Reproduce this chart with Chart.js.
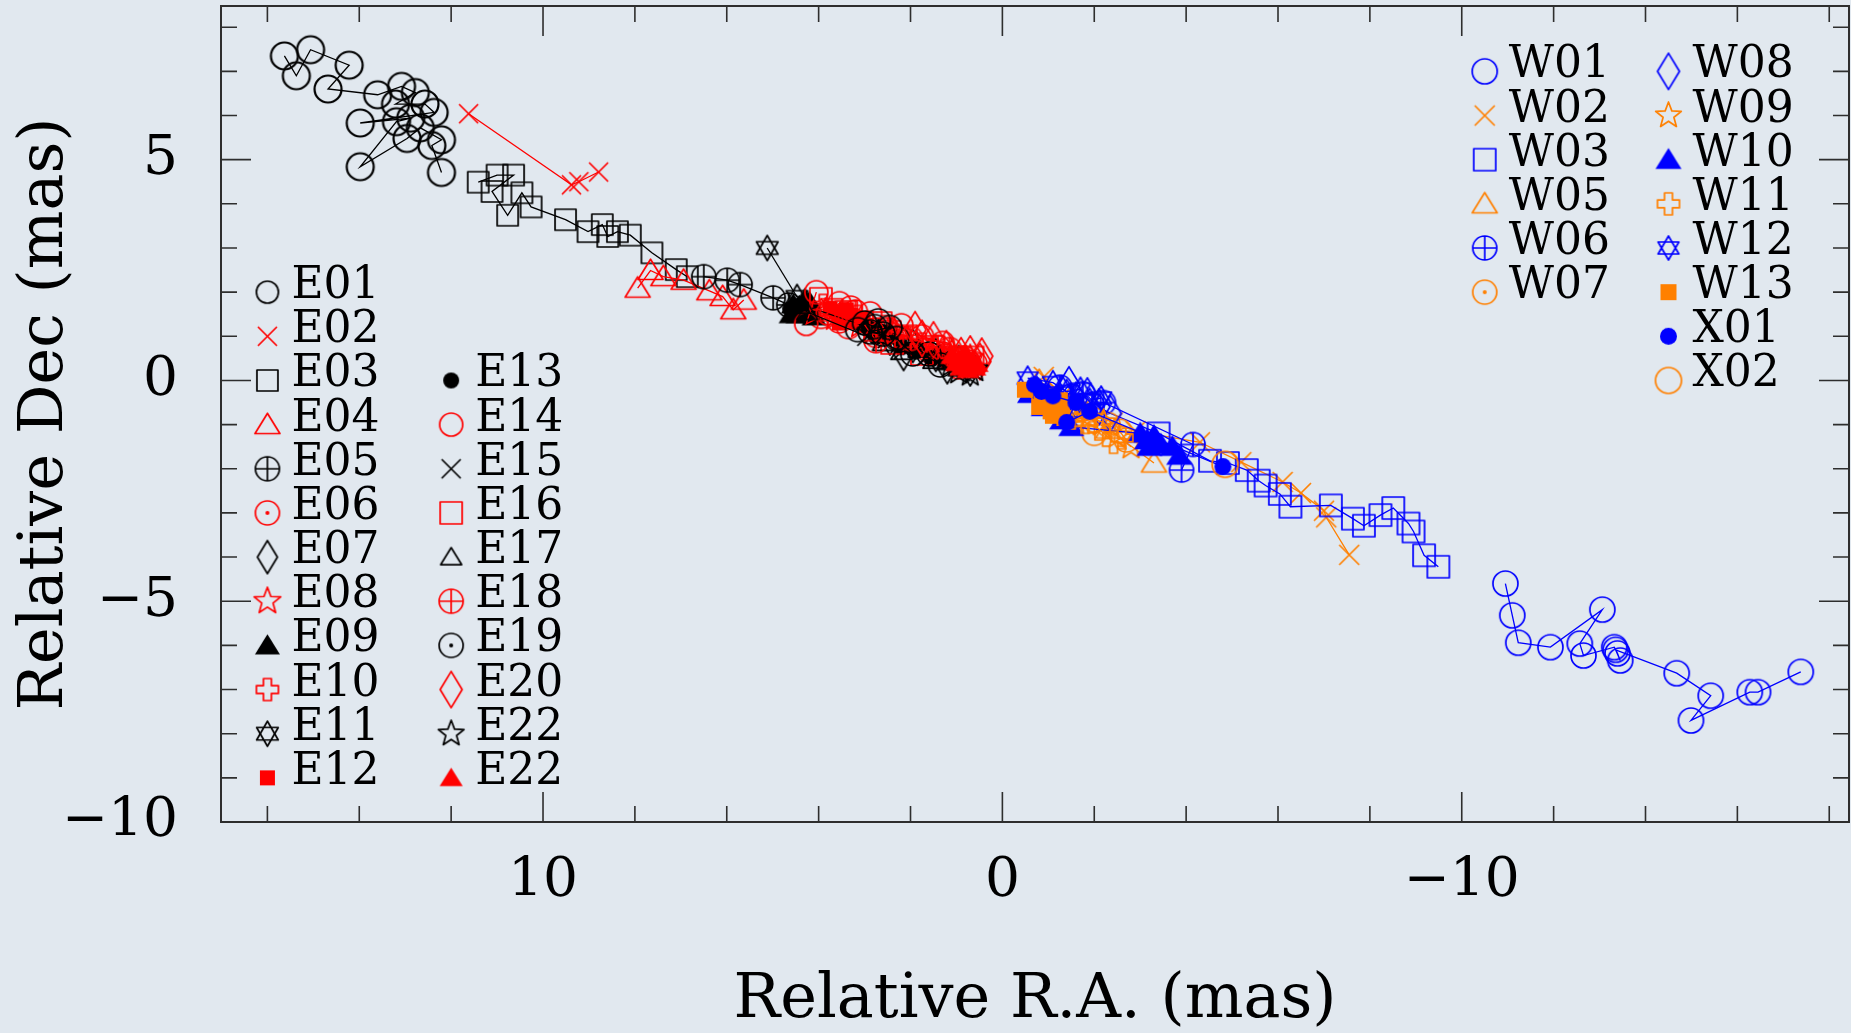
<!DOCTYPE html>
<html>
<head>
<meta charset="utf-8">
<script src="https://cdn.jsdelivr.net/npm/chart.js@4.4.1/dist/chart.umd.min.js"></script>
<style>
  html, body { margin: 0; padding: 0; background: #e1e8ef; }
  #wrap { width: 1851px; height: 1033px; }
</style>
</head>
<body>
<div id="wrap"><canvas id="pm" width="1851" height="1033"></canvas></div>
<script>
// Relative positions [R.A., Dec] in mas, one array per feature, in epoch order
const E01 = [[15.63,7.35],[15.37,6.90],[15.06,7.49],[14.22,7.14],[14.68,6.60],[13.60,6.47],[13.08,6.66],[12.78,6.52],[13.21,6.26],[12.57,6.26],[12.37,6.07],[13.98,5.83],[12.88,5.94],[13.19,5.86],[13.98,4.84],[12.96,5.48],[12.67,5.72],[12.21,5.45],[12.42,5.32],[12.21,4.71]];
const E02 = [[11.62,6.04],[9.38,4.43],[9.22,4.50],[8.79,4.72]];
const E03 = [[11.41,4.49],[11.00,4.65],[10.64,4.65],[11.11,4.28],[10.77,3.74],[10.46,4.25],[10.26,3.93],[9.51,3.64],[9.02,3.37],[8.71,3.53],[8.59,3.26],[8.38,3.37],[8.10,3.29],[7.63,2.89],[7.10,2.51],[6.86,2.35]];
const E04 = [[7.94,2.09],[7.66,2.49],[7.38,2.35],[6.94,2.27],[6.38,2.03],[6.09,1.90],[5.86,1.60],[5.63,1.82]];
const E05 = [[6.50,2.35],[5.99,2.27],[5.71,2.17],[4.99,1.87],[4.65,1.71],[4.22,1.55]];
const E06 = [[3.95,1.45],[3.55,1.35],[3.35,1.22],[2.75,1.02],[2.20,0.88],[1.60,0.68],[1.30,0.60],[1.05,0.50],[0.75,0.42]];
const E07 = [[2.45,0.95],[2.15,0.60],[1.95,0.78],[1.45,0.58],[1.20,0.30],[0.95,0.42],[0.70,0.25]];
const E08 = [[3.85,1.55],[3.65,1.42],[3.10,1.25],[2.60,1.05],[2.35,1.12],[2.05,0.92],[1.45,0.72],[1.10,0.62],[0.70,0.50]];
const E09 = [[4.55,1.72],[4.35,1.58],[4.30,1.85],[4.20,1.78],[4.60,1.50],[4.45,1.50],[4.10,1.45]];
const E10 = [[3.90,1.70],[3.45,1.52],[3.15,1.45],[2.90,1.32],[2.55,1.22],[2.30,1.10],[1.75,0.82],[1.20,0.58],[0.95,0.52]];
const E11 = [[5.12,3.00],[4.47,1.89]];
const E12 = [[3.75,1.62],[3.62,1.55],[3.40,1.60],[3.48,1.42],[3.55,1.30],[3.30,1.47],[3.18,1.32],[3.05,1.38],[2.95,1.25]];
const E13 = [[4.62,1.62],[4.38,1.72],[2.92,1.20],[2.75,0.98],[2.62,1.10],[2.45,1.05],[2.20,0.75],[1.90,0.65],[1.55,0.50],[1.25,0.45],[1.02,0.40],[0.72,0.33]];
const E14 = [[4.05,2.00],[4.27,1.28],[3.80,1.52],[3.55,1.75],[3.30,1.65],[2.88,1.52],[2.52,1.10],[2.20,1.25],[1.75,1.00],[1.30,0.85],[0.95,0.30]];
const E15 = [[2.95,1.00],[2.80,1.05],[2.50,0.95],[2.15,0.70],[1.65,0.55],[1.30,0.52],[0.88,0.36]];
const E16 = [[3.95,1.85],[3.72,1.60],[3.40,1.55],[2.65,1.30],[2.40,0.85],[2.10,1.00],[1.75,0.60],[1.50,0.76],[1.08,0.52],[0.65,0.52]];
const E17 = [[4.42,1.70],[4.25,1.55],[2.60,0.85],[2.20,0.65],[1.82,0.70],[1.50,0.45],[1.18,0.42],[0.95,0.28]];
const E18 = [[3.20,1.55],[2.75,0.90],[2.50,1.15],[2.00,0.95],[1.40,0.75],[1.15,0.70],[0.82,0.50],[0.60,0.38]];
const E19 = [[3.15,1.15],[3.00,1.30],[2.78,1.22],[2.70,1.35],[2.60,1.05],[2.45,1.20],[2.88,1.10],[2.30,0.95],[1.95,0.60],[1.60,0.60],[1.35,0.35]];
const E20 = [[1.90,1.15],[1.75,0.95],[1.50,0.92],[1.22,0.72],[0.90,0.56],[0.70,0.60],[0.49,0.43],[0.45,0.55]];
const E22a = [[1.12,0.36],[0.95,0.20],[0.80,0.30],[0.70,0.15],[0.60,0.25]];
const E22b = [[1.10,0.56],[1.00,0.40],[0.95,0.50],[0.90,0.30],[0.85,0.40],[0.80,0.60],[0.70,0.36],[0.65,0.45],[0.60,0.30],[0.55,0.38],[0.75,0.24]];

const W01 = [[-10.95,-4.60],[-11.10,-5.32],[-11.23,-5.94],[-11.93,-6.04],[-13.06,-5.19],[-12.57,-5.96],[-12.65,-6.23],[-13.32,-6.04],[-13.39,-6.18],[-13.45,-6.34],[-13.35,-6.10],[-14.68,-6.63],[-15.42,-7.14],[-14.99,-7.70],[-16.27,-7.06],[-16.45,-7.06],[-17.38,-6.60]];
const W02 = [[-0.90,0.08],[-1.30,-0.35],[-1.70,-0.65],[-2.40,-0.95],[-2.90,-1.15],[-4.30,-1.40],[-5.20,-1.85],[-6.10,-2.30],[-6.50,-2.55],[-7.00,-2.95],[-7.05,-3.10],[-7.55,-3.95]];
const W03 = [[-1.90,-0.55],[-3.40,-1.20],[-4.52,-1.82],[-4.91,-1.87],[-5.32,-2.03],[-5.58,-2.27],[-5.73,-2.38],[-6.04,-2.57],[-6.27,-2.86],[-7.15,-2.83],[-7.63,-3.13],[-7.87,-3.29],[-8.23,-3.05],[-8.51,-2.89],[-8.84,-3.24],[-8.95,-3.42],[-9.18,-3.96],[-9.49,-4.22]];
const W05 = [[-0.80,0.00],[-1.60,-0.70],[-2.30,-1.10],[-3.30,-1.87]];
const W06 = [[-1.25,-0.15],[-1.50,-0.35],[-1.75,-0.30],[-1.95,-0.55],[-2.20,-0.50],[-4.15,-1.45],[-3.90,-2.03]];
const W07 = [[-1.45,-0.60],[-1.70,-0.75],[-2.00,-0.90],[-2.00,-1.20],[-2.30,-1.00],[-2.55,-1.15],[-2.70,-1.35]];
const W08 = [[-1.30,-0.30],[-1.45,-0.10],[-1.60,-0.45],[-1.85,-0.35],[-2.10,-0.60],[-2.35,-0.75]];
const W09 = [[-1.60,-0.95],[-1.90,-0.85],[-2.20,-0.95],[-2.50,-1.25],[-2.80,-1.50]];
const W10 = [[-0.60,-0.30],[-0.75,-0.15],[-1.00,-0.30],[-0.90,-0.60],[-1.20,-0.35],[-1.30,-0.90],[-1.50,-1.05],[-3.00,-1.20],[-3.15,-1.35],[-3.30,-1.25],[-3.20,-1.50],[-3.45,-1.45],[-3.70,-1.50],[-3.85,-1.70]];
const W11 = [[-1.50,-0.85],[-1.80,-0.95],[-2.10,-1.10],[-2.42,-1.40],[-2.60,-1.30]];
const W12 = [[-0.55,0.05],[-1.10,-0.05],[-1.40,-0.25],[-1.70,-0.20],[-1.90,-0.45],[-2.15,-0.40]];
const W13 = [[-0.49,-0.21],[-0.80,-0.60],[-0.85,-0.45],[-0.95,-0.35],[-1.00,-0.55],[-1.15,-0.50],[-1.25,-0.45],[-1.20,-0.75],[-1.05,-0.70],[-1.10,-0.80],[-1.30,-0.65],[-1.35,-0.85]];
const X01 = [[-0.70,-0.10],[-0.85,-0.25],[-1.10,-0.35],[-1.60,-0.50],[-1.40,-0.95],[-1.90,-0.70],[-4.80,-1.95]];
const X02 = [[-4.85,-1.90]];

// axis ticks and labels
const xTicks = [-18, -16, -14, -12, -10, -8, -6, -4, -2, 0, 2, 4, 6, 8, 10, 12, 14, 16];
const xMajor = [10, 0, -10];
const xMajorText = ['10', '0', '\u221210'];
const yTicks = [-10, -9, -8, -7, -6, -5, -4, -3, -2, -1, 0, 1, 2, 3, 4, 5, 6, 7, 8];
const yMajor = [5, 0, -5, -10];
const yMajorText = ['5', '0', '\u22125', '\u221210'];

const X_MIN = -18.43, X_MAX = 17.01;
const Y_MIN = -10, Y_MAX = 8.48;

const BLACK = '#000000', RED = '#ff0000', BLUE = '#0000ff', ORANGE = '#ff8000';
const SERIF = "'DejaVu Serif', serif";

const series = [
  { id: 'E01', pts: E01, kind: 'circle', color: BLACK, s: 13.5, key: 11, lw: 2.2 },
  { id: 'E02', pts: E02, kind: 'x', color: RED, s: 9.5 },
  { id: 'E03', pts: E03, kind: 'square', color: BLACK, s: 10.5 },
  { id: 'E04', pts: E04, kind: 'triangle', color: RED, s: 12.5 },
  { id: 'E05', pts: E05, kind: 'circlePlus', color: BLACK, s: 12 },
  { id: 'E06', pts: E06, kind: 'circleDot', color: RED, s: 12 },
  { id: 'E07', pts: E07, kind: 'diamond', color: BLACK, s: 10 },
  { id: 'E08', pts: E08, kind: 'star5', color: RED, s: 14 },
  { id: 'E09', pts: E09, kind: 'triangleFill', color: BLACK, s: 12.5 },
  { id: 'E10', pts: E10, kind: 'plus', color: RED, s: 11 },
  { id: 'E11', pts: E11, kind: 'star6', color: BLACK, s: 12.5 },
  { id: 'E12', pts: E12, kind: 'squareFill', color: RED, s: 7.5 },
  { id: 'E13', pts: E13, kind: 'dot', color: BLACK, s: 8 },
  { id: 'E14', pts: E14, kind: 'circle', color: RED, s: 11.5 },
  { id: 'E15', pts: E15, kind: 'x', color: BLACK, s: 9.5 },
  { id: 'E16', pts: E16, kind: 'square', color: RED, s: 11 },
  { id: 'E17', pts: E17, kind: 'triangle', color: BLACK, s: 10.5 },
  { id: 'E18', pts: E18, kind: 'circlePlus', color: RED, s: 12 },
  { id: 'E19', pts: E19, kind: 'circleDot', color: BLACK, s: 12 },
  { id: 'E20', pts: E20, kind: 'diamond', color: RED, s: 11 },
  { id: 'E22a', label: 'E22', pts: E22a, kind: 'star5', color: BLACK, s: 13.5 },
  { id: 'E22b', label: 'E22', pts: E22b, kind: 'triangleFill', color: RED, s: 11.5 },
  { id: 'W01', pts: W01, kind: 'circle', color: BLUE, s: 12.5 },
  { id: 'W02', pts: W02, kind: 'x', color: ORANGE, s: 10 },
  { id: 'W03', pts: W03, kind: 'square', color: BLUE, s: 11 },
  { id: 'W05', pts: W05, kind: 'triangle', color: ORANGE, s: 12.5 },
  { id: 'W06', pts: W06, kind: 'circlePlus', color: BLUE, s: 12 },
  { id: 'W07', pts: W07, kind: 'circleDot', color: ORANGE, s: 12 },
  { id: 'W08', pts: W08, kind: 'diamond', color: BLUE, s: 11 },
  { id: 'W09', pts: W09, kind: 'star5', color: ORANGE, s: 13.5 },
  { id: 'W10', pts: W10, kind: 'triangleFill', color: BLUE, s: 13 },
  { id: 'W11', pts: W11, kind: 'plus', color: ORANGE, s: 11 },
  { id: 'W12', pts: W12, kind: 'star6', color: BLUE, s: 12 },
  { id: 'W13', pts: W13, kind: 'squareFill', color: ORANGE, s: 8 },
  { id: 'X01', pts: X01, kind: 'dot', color: BLUE, s: 8.5 },
  { id: 'X02', pts: X02, kind: 'circle', color: ORANGE, s: 13 },
];

// key columns, placed in data coordinates (x = R.A., first row Dec, one row per mas)
const keyColumns = [
  { x: 16, top: 2, ids: ['E01','E02','E03','E04','E05','E06','E07','E08','E09','E10','E11','E12'] },
  { x: 12, top: 0, ids: ['E13','E14','E15','E16','E17','E18','E19','E20','E22a','E22b'] },
  { x: -10.5, top: 7, ids: ['W01','W02','W03','W05','W06','W07'] },
  { x: -14.5, top: 7, ids: ['W08','W09','W10','W11','W12','W13','X01','X02'] },
];

function makeSymbol(kind, color, s, lw) {
  const h = kind === 'diamond' ? s * 1.65 : s;
  const pad = lw + 2;
  const c = document.createElement('canvas');
  c.width = Math.ceil(2 * (s + pad));
  c.height = Math.ceil(2 * (h + pad));
  const g = c.getContext('2d');
  g.translate(c.width / 2, c.height / 2);
  g.strokeStyle = color;
  g.fillStyle = color;
  g.lineWidth = lw;
  g.lineJoin = 'round';
  const poly = (pts) => {
    g.beginPath();
    pts.forEach(([px, py], i) => (i ? g.lineTo(px, py) : g.moveTo(px, py)));
    g.closePath();
  };
  switch (kind) {
    case 'circle':
      g.beginPath(); g.arc(0, 0, s, 0, Math.PI * 2); g.stroke();
      break;
    case 'circlePlus':
      g.beginPath(); g.arc(0, 0, s, 0, Math.PI * 2);
      g.moveTo(-s, 0); g.lineTo(s, 0); g.moveTo(0, -s); g.lineTo(0, s);
      g.stroke();
      break;
    case 'circleDot':
      g.beginPath(); g.arc(0, 0, s, 0, Math.PI * 2); g.stroke();
      g.beginPath(); g.arc(0, 0, 2, 0, Math.PI * 2); g.fill();
      break;
    case 'dot':
      g.beginPath(); g.arc(0, 0, s, 0, Math.PI * 2); g.fill();
      break;
    case 'x':
      g.beginPath();
      g.moveTo(-s, -s); g.lineTo(s, s); g.moveTo(s, -s); g.lineTo(-s, s);
      g.stroke();
      break;
    case 'square':
      g.strokeRect(-s, -s, 2 * s, 2 * s);
      break;
    case 'squareFill':
      g.fillRect(-s, -s, 2 * s, 2 * s);
      break;
    case 'triangle':
      poly([[0, -0.9 * s], [s, 0.72 * s], [-s, 0.72 * s]]); g.stroke();
      break;
    case 'triangleFill':
      poly([[0, -0.9 * s], [s, 0.72 * s], [-s, 0.72 * s]]); g.fill();
      break;
    case 'diamond':
      poly([[0, -h], [s, 0], [0, h], [-s, 0]]); g.stroke();
      break;
    case 'star5': {
      const p = [];
      for (let i = 0; i < 10; i++) {
        const r = i % 2 ? s * 0.42 : s;
        const a = -Math.PI / 2 + i * Math.PI / 5;
        p.push([r * Math.cos(a), r * Math.sin(a)]);
      }
      poly(p); g.stroke();
      break;
    }
    case 'star6':
      for (const off of [-Math.PI / 2, Math.PI / 2]) {
        poly([0, 1, 2].map(i => [s * Math.cos(off + i * 2 * Math.PI / 3), s * Math.sin(off + i * 2 * Math.PI / 3)]));
        g.stroke();
      }
      break;
    case 'plus': {
      const a = s * 0.36;
      poly([[-a, -s], [a, -s], [a, -a], [s, -a], [s, a], [a, a], [a, s], [-a, s], [-a, a], [-s, a], [-s, -a], [-a, -a]]);
      g.stroke();
      break;
    }
  }
  return c;
}

series.forEach(sr => {
  const lw = sr.lw || 1.7;
  sr.sym = makeSymbol(sr.kind, sr.color, sr.s, lw);
  sr.keySym = sr.key ? makeSymbol(sr.kind, sr.color, sr.key, 1.7) : sr.sym;
});

const datasets = series.map((sr, i) => ({
  label: sr.label || sr.id,
  data: sr.pts.map(([x, y]) => ({ x, y })),
  showLine: true,
  borderColor: sr.color,
  borderWidth: 1.3,
  pointStyle: sr.sym,
  pointRadius: sr.s,
  pointHoverRadius: sr.s,
  order: series.length - i,
}));

const MAJOR_LEN = 30, MINOR_LEN = 16;

const framePlugin = {
  id: 'frame',
  afterDraw(chart) {
    const { ctx, chartArea: a, scales: { x, y } } = chart;
    ctx.save();
    ctx.strokeStyle = '#2e2e2e';
    ctx.lineWidth = 2;
    ctx.strokeRect(a.left, a.top, a.right - a.left, a.bottom - a.top);
    ctx.lineWidth = 1.6;
    ctx.beginPath();
    x.ticks.forEach(t => {
      const px = x.getPixelForValue(t.value);
      const len = xMajor.includes(t.value) ? MAJOR_LEN : MINOR_LEN;
      ctx.moveTo(px, a.bottom); ctx.lineTo(px, a.bottom - len);
      ctx.moveTo(px, a.top); ctx.lineTo(px, a.top + len);
    });
    y.ticks.forEach(t => {
      const py = y.getPixelForValue(t.value);
      const len = yMajor.includes(t.value) ? MAJOR_LEN : MINOR_LEN;
      ctx.moveTo(a.left, py); ctx.lineTo(a.left + len, py);
      ctx.moveTo(a.right, py); ctx.lineTo(a.right - len, py);
    });
    ctx.stroke();

    // key: symbol at its data position, name to the right
    ctx.fillStyle = '#000';
    ctx.font = '44px ' + SERIF;
    ctx.textBaseline = 'alphabetic';
    ctx.textAlign = 'left';
    keyColumns.forEach(col => {
      col.ids.forEach((id, row) => {
        const sr = series.find(s => s.id === id);
        const px = x.getPixelForValue(col.x);
        const py = y.getPixelForValue(col.top - row);
        const img = sr.keySym;
        ctx.drawImage(img, px - img.width / 2, py - img.height / 2);
        ctx.fillText(sr.label || sr.id, px + 24, py + 6);
      });
    });
    ctx.restore();
  }
};

const tickFont = { family: SERIF, size: 55, lineHeight: 1 };
const titleFont = { family: SERIF, size: 62, lineHeight: 1 };

new Chart(document.getElementById('pm'), {
  type: 'scatter',
  data: { datasets },
  options: {
    responsive: false,
    animation: false,
    devicePixelRatio: 1,
    layout: { autoPadding: false, padding: { left: 0, right: 2, top: 6, bottom: 0 } },
    plugins: { legend: { display: false }, tooltip: { enabled: false } },
    scales: {
      x: {
        type: 'linear',
        reverse: true,
        min: X_MIN,
        max: X_MAX,
        afterBuildTicks: sc => { sc.ticks = xTicks.map(v => ({ value: v })); },
        afterFit: sc => { sc.height = 211; sc.paddingLeft = 0; sc.paddingRight = 0; },
        ticks: {
          autoSkip: false,
          maxRotation: 0,
          padding: 32,
          color: '#000',
          font: tickFont,
          callback: v => { const i = xMajor.indexOf(v); return i >= 0 ? xMajorText[i] : ''; },
        },
        grid: { display: false, drawTicks: false },
        border: { display: false },
        title: { display: true, text: 'Relative R.A. (mas)', color: '#000', font: titleFont, padding: { top: 0, bottom: 1 } },
      },
      y: {
        type: 'linear',
        min: Y_MIN,
        max: Y_MAX,
        afterBuildTicks: sc => { sc.ticks = yTicks.map(v => ({ value: v })); },
        afterFit: sc => { sc.width = 221; sc.paddingTop = 0; sc.paddingBottom = 0; },
        ticks: {
          autoSkip: false,
          padding: 43,
          color: '#000',
          font: tickFont,
          callback: v => { const i = yMajor.indexOf(v); return i >= 0 ? yMajorText[i] : ''; },
        },
        grid: { display: false, drawTicks: false },
        border: { display: false },
        title: { display: true, text: 'Relative Dec (mas)', color: '#000', font: titleFont, padding: { top: 15, bottom: 0 } },
      },
    },
  },
  plugins: [framePlugin],
});
</script>
</body>
</html>
